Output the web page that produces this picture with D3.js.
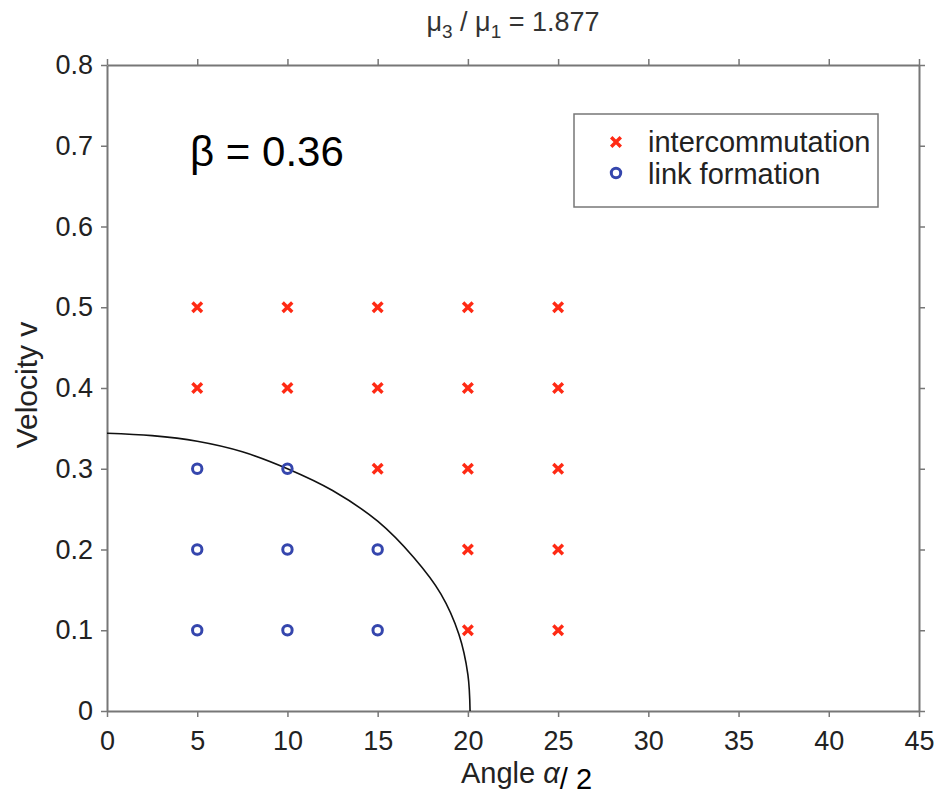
<!DOCTYPE html>
<html>
<head>
<meta charset="utf-8">
<script src="https://cdn.jsdelivr.net/npm/d3@7"></script>
<style>
  body { margin: 0; background: #fff; }
  svg { display: block; }
</style>
</head>
<body>
<div id="chart"></div>
<script>
// Data
const xTicks = [0, 5, 10, 15, 20, 25, 30, 35, 40, 45];
const yTicks = [0, 0.1, 0.2, 0.3, 0.4, 0.5, 0.6, 0.7, 0.8];

// intercommutation points (angle, velocity)
const interAngle = [5, 10, 15, 20, 25, 5, 10, 15, 20, 25, 15, 20, 25, 20, 25, 20, 25];
const interVel   = [0.5, 0.5, 0.5, 0.5, 0.5, 0.4, 0.4, 0.4, 0.4, 0.4, 0.3, 0.3, 0.3, 0.2, 0.2, 0.1, 0.1];

// link formation points
const linkAngle = [5, 10, 5, 10, 15, 5, 10, 15];
const linkVel   = [0.3, 0.3, 0.2, 0.2, 0.2, 0.1, 0.1, 0.1];

// boundary curve
const curveAngle = [0, 2.5, 5.0, 7.5, 10.0, 12.5, 15.0, 17.0, 18.5, 19.5, 20.0, 20.12];
const curveVel   = [0.344, 0.341, 0.334, 0.321, 0.300, 0.273, 0.235, 0.190, 0.145, 0.095, 0.045, 0];

const W = 936, H = 795;
const margin = {top: 65, right: 17, bottom: 84, left: 107};
const width = W - margin.left - margin.right;
const height = H - margin.top - margin.bottom;

const svg = d3.select("#chart").append("svg")
    .attr("width", W)
    .attr("height", H)
    .style("font-family", "Arial, 'Liberation Sans', Helvetica, sans-serif");

const g = svg.append("g")
    .attr("transform", `translate(${margin.left},${margin.top})`);

const x = d3.scaleLinear().domain([0, 45]).range([0, width]);
const y = d3.scaleLinear().domain([0, 0.8]).range([height, 0]);

const axisColor = "#777";
const fmt = d3.format("~g");

function styleAxis(sel) {
    sel.selectAll("path").attr("stroke", axisColor).attr("stroke-width", 2);
    sel.selectAll("line").attr("stroke", axisColor).attr("stroke-width", 1.5);
    sel.selectAll("text").attr("fill", "#222").style("font-size", "27px");
}

// Axes on all four sides, ticks outward
g.append("g")
    .attr("transform", `translate(0,${height})`)
    .call(d3.axisBottom(x).tickValues(xTicks).tickSize(6).tickSizeOuter(0).tickPadding(14).tickFormat(fmt))
    .call(styleAxis);

g.append("g")
    .call(d3.axisTop(x).tickValues(xTicks).tickSize(6).tickSizeOuter(0).tickFormat(""))
    .call(styleAxis);

g.append("g")
    .call(d3.axisLeft(y).tickValues(yTicks).tickSize(6).tickSizeOuter(0).tickPadding(8).tickFormat(fmt))
    .call(styleAxis);

g.append("g")
    .attr("transform", `translate(${width},0)`)
    .call(d3.axisRight(y).tickValues(yTicks).tickSize(6).tickSizeOuter(0).tickFormat(""))
    .call(styleAxis);

// Boundary curve
const curvePts = curveAngle.map((a, i) => [a, curveVel[i]]);
g.append("path")
    .datum(curvePts)
    .attr("fill", "none")
    .attr("stroke", "#111")
    .attr("stroke-width", 1.6)
    .attr("d", d3.line()
        .x(d => x(d[0]))
        .y(d => y(d[1]))
        .curve(d3.curveCatmullRom));

// Markers
const red = "#ff2a14";
const blue = "#3546ad";
const xs = 4.8;

function drawCross(sel, cx, cy) {
    sel.append("path")
        .attr("d", `M${cx - xs},${cy - xs}L${cx + xs},${cy + xs}M${cx - xs},${cy + xs}L${cx + xs},${cy - xs}`)
        .attr("stroke", red)
        .attr("stroke-width", 3.4)
        .attr("fill", "none");
}

function drawCircle(sel, cx, cy) {
    sel.append("circle")
        .attr("cx", cx)
        .attr("cy", cy)
        .attr("r", 4.7)
        .attr("fill", "none")
        .attr("stroke", blue)
        .attr("stroke-width", 3);
}

const marks = g.append("g");
interAngle.forEach((a, i) => drawCross(marks, x(a), y(interVel[i])));
linkAngle.forEach((a, i) => drawCircle(marks, x(a), y(linkVel[i])));

// Legend
const legend = svg.append("g");
legend.append("rect")
    .attr("x", 574).attr("y", 114)
    .attr("width", 304).attr("height", 93)
    .attr("fill", "#fff")
    .attr("stroke", axisColor)
    .attr("stroke-width", 1.5);
drawCross(legend, 616, 142);
drawCircle(legend, 616, 173);
legend.append("text")
    .attr("x", 648).attr("y", 152)
    .style("font-size", "29px").attr("fill", "#222")
    .text("intercommutation");
legend.append("text")
    .attr("x", 648).attr("y", 184)
    .style("font-size", "29px").attr("fill", "#222")
    .text("link formation");

// Beta annotation
svg.append("text")
    .attr("x", 190).attr("y", 166)
    .style("font-size", "42px").attr("fill", "#000")
    .text("β = 0.36");

// Title
const title = svg.append("text")
    .attr("x", margin.left + width / 2)
    .attr("y", 31)
    .attr("text-anchor", "middle")
    .attr("fill", "#333")
    .style("font-size", "27px");
title.append("tspan").text("μ");
title.append("tspan").attr("dy", 7).style("font-size", "19px").text("3");
title.append("tspan").attr("dy", -7).text(" / μ");
title.append("tspan").attr("dy", 7).style("font-size", "19px").text("1");
title.append("tspan").attr("dy", -7).text(" = 1.877");

// Axis labels
svg.append("text")
    .attr("transform", `translate(37,385) rotate(-90)`)
    .attr("text-anchor", "middle")
    .attr("fill", "#222")
    .style("font-size", "30px")
    .text("Velocity v");

const xl = svg.append("text")
    .attr("x", 461).attr("y", 783)
    .attr("fill", "#222")
    .style("font-size", "29px");
xl.append("tspan").text("Angle ");
xl.append("tspan").style("font-style", "italic").text("α");
xl.append("tspan").attr("dy", 6).attr("fill", "#000").text("/ 2");
</script>
</body>
</html>
